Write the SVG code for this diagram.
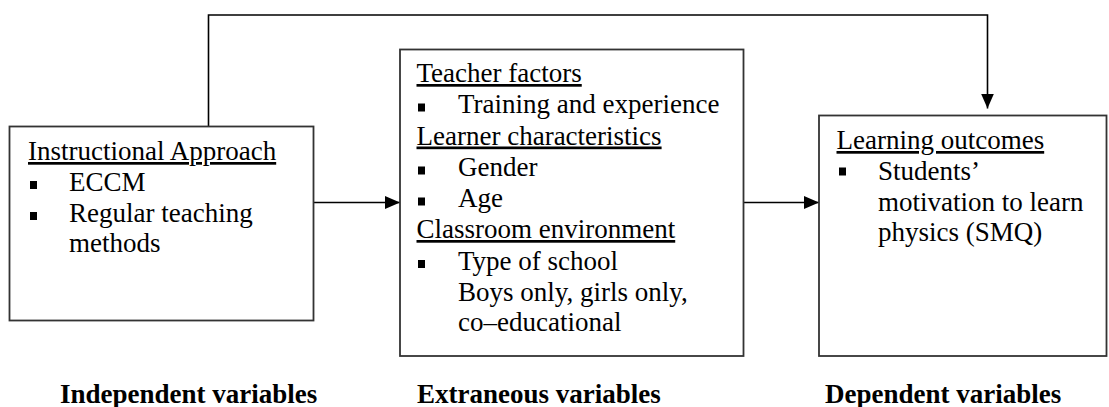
<svg xmlns="http://www.w3.org/2000/svg" width="1109" height="407" viewBox="0 0 1109 407">
<style>
.box{fill:#fff;stroke:#333;stroke-width:1.8}
.t{font-family:"Liberation Serif",serif;font-size:27px;fill:#000}
.h{text-decoration:underline}
.lbl{font-family:"Liberation Serif",serif;font-size:27px;font-weight:bold;fill:#000}
.b{fill:#000}
.c{fill:none;stroke:#000;stroke-width:1.6}
</style>
<defs>
<marker id="ah" markerUnits="userSpaceOnUse" markerWidth="16" markerHeight="14" refX="15" refY="6.5" orient="auto">
<path d="M0,0 L15,6.5 L0,13 z" fill="#000"/>
</marker>
</defs>
<g id="connectors">
<path class="c" d="M208.5,126.5 V15 H987.5 V108.5" marker-end="url(#ah)"/>
<path class="c" d="M313.5,202.5 H400" marker-end="url(#ah)"/>
<path class="c" d="M743.5,202.5 H819" marker-end="url(#ah)"/>
</g>
<g id="independent">
<rect class="box" x="9.5" y="126.5" width="304" height="194"/>
<text class="t h" x="28" y="160">Instructional Approach</text>
<rect class="b" x="30" y="181" width="7" height="8"/>
<text class="t" x="69" y="191">ECCM</text>
<rect class="b" x="30" y="212" width="7" height="8"/>
<text class="t" x="69" y="222">Regular teaching</text>
<text class="t" x="69" y="252">methods</text>
</g>
<g id="extraneous">
<rect class="box" x="400" y="49.5" width="343.5" height="306.5"/>
<text class="t h" x="416.5" y="82">Teacher factors</text>
<rect class="b" x="418" y="103.5" width="7" height="8"/>
<text class="t" x="458" y="113">Training and experience</text>
<text class="t h" x="416.5" y="144.5">Learner characteristics</text>
<rect class="b" x="418" y="166.5" width="7" height="8"/>
<text class="t" x="458" y="176">Gender</text>
<rect class="b" x="418" y="197.5" width="7" height="8"/>
<text class="t" x="458" y="207">Age</text>
<text class="t h" x="416.5" y="238">Classroom environment</text>
<rect class="b" x="418" y="260" width="7" height="8"/>
<text class="t" x="458" y="269.5">Type of school</text>
<text class="t" x="458" y="300.5">Boys only, girls only,</text>
<text class="t" x="458" y="330.5">co–educational</text>
</g>
<g id="dependent">
<rect class="box" x="819" y="115.5" width="287.5" height="240.5"/>
<text class="t h" x="836.5" y="149">Learning outcomes</text>
<rect class="b" x="839" y="167.5" width="7" height="8"/>
<text class="t" x="878" y="180">Students’</text>
<text class="t" x="878" y="210.5">motivation to learn</text>
<text class="t" x="878" y="240.5">physics (SMQ)</text>
</g>
<g id="labels">
<text class="lbl" x="60" y="403">Independent variables</text>
<text class="lbl" x="417" y="403">Extraneous variables</text>
<text class="lbl" x="825" y="403">Dependent variables</text>
</g>
</svg>
